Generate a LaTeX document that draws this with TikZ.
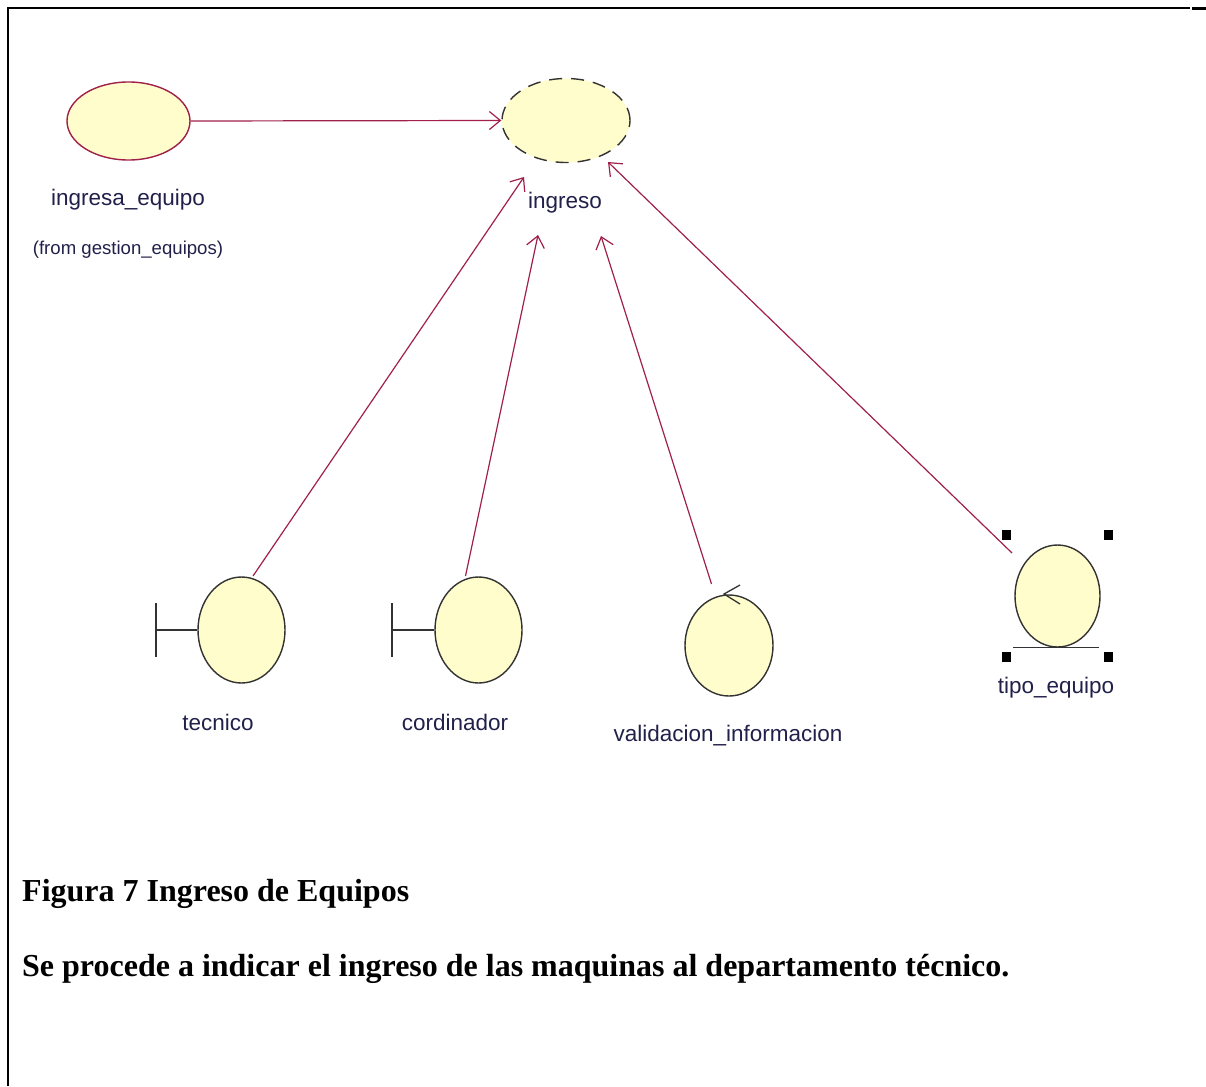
\documentclass[tikz,border=0pt]{standalone}
\usepackage{fontspec}
\setmainfont{Liberation Serif}
\newfontfamily\rosefont{Liberation Sans}
\usetikzlibrary{shapes.geometric,arrows.meta}
\definecolor{rosefill}{HTML}{FFFDCC}
\definecolor{roseline}{HTML}{A0204A}
\definecolor{roseedge}{HTML}{333333}
\definecolor{rosetext}{HTML}{20204A}
\tikzset{
  x=1pt, y=-1pt,
  usecase/.style={ellipse, draw=roseline, fill=rosefill, line width=1.4pt, inner sep=0pt},
  robust/.style={ellipse, draw=roseedge, fill=rosefill, line width=1.4pt, inner sep=0pt},
  iconline/.style={draw=roseedge, line width=1.8pt},
  dep/.style={draw=roseline, line width=1.2pt,
    -{Straight Barb[length=11pt,width=18pt,line width=1.2pt]}},
  lbl/.style={font=\rosefont\fontsize{22.5}{26}\selectfont, text=rosetext, inner sep=0pt},
  handle/.style={fill=black, minimum width=9pt, minimum height=10pt, inner sep=0pt},
  caption/.style={font=\bfseries\fontsize{32}{38}\selectfont, anchor=base west, inner sep=0pt}
}
\begin{document}
\begin{tikzpicture}
\useasboundingbox (0,0) rectangle (1206,1086);
% page frame
\draw[line width=2pt] (8,8) -- (1190,8);
\draw[line width=2pt] (8,7) -- (8,1086);
\draw[line width=3pt] (1192,9) -- (1206,9);

% use cases
\node[usecase, minimum width=123pt, minimum height=78pt] (ingresa) at (128.5,121) {};
\node[usecase, draw=roseedge, dash pattern=on 13pt off 9pt, minimum width=128pt, minimum height=84pt] (ingreso) at (566,120.5) {};
\node[lbl] (ingresaL) at (128,200) {ingresa\_equipo};
\node[lbl, font=\rosefont\fontsize{18.6}{22}\selectfont] (fromL) at (128,250) {(from gestion\_equipos)};
\node[lbl] (ingresoL) at (565,203) {ingreso};

% boundary: tecnico
\node[robust, minimum width=87pt, minimum height=106pt] (tecnico) at (241.5,630) {};
\draw[iconline] (156,603) -- (156,657);
\draw[iconline] (156,630) -- (tecnico.west);
\node[lbl] (tecnicoL) at (218,722) {tecnico};

% boundary: cordinador
\node[robust, minimum width=87pt, minimum height=106pt] (cordinador) at (478.5,630) {};
\draw[iconline] (392,603) -- (392,657);
\draw[iconline] (392,630) -- (cordinador.west);
\node[lbl] (cordinadorL) at (455,722) {cordinador};

% control: validacion_informacion
\node[robust, minimum width=88pt, minimum height=101pt] (validacion) at (729,645.5) {};
\draw[iconline, line width=1.3pt] (740,585) -- (724,594) -- (740,604);
\node[lbl] (validacionL) at (728,736) {validacion\_informacion};

% entity: tipo_equipo (selected)
\node[robust, minimum width=85pt, minimum height=102pt] (tipo) at (1057.5,596) {};
\draw[iconline, line width=1.4pt] (1013,647.5) -- (1099,647.5);
\node[handle] (h1) at (1006,535) {};
\node[handle] (h2) at (1108,535) {};
\node[handle] (h3) at (1006,657) {};
\node[handle] (h4) at (1108,657) {};
\node[lbl] (tipoL) at (1056,688) {tipo\_equipo};

% dependency end points
\coordinate (tecS) at (253,576);
\coordinate (tecE) at (524,177);
\coordinate (corS) at (465.5,576);
\coordinate (corE) at (538,235);
\coordinate (valS) at (711.5,584);
\coordinate (valE) at (601,236);
\coordinate (tipS) at (1012,553);
\coordinate (tipE) at (608,162);

% dependencies
\draw[dep] (ingresa.east) -- (ingreso.west);
\draw[dep] (tecS) -- (tecE);
\draw[dep] (corS) -- (corE);
\draw[dep] (valS) -- (valE);
\draw[dep] (tipS) -- (tipE);

% caption
\node[caption] (cap1) at (22,901) {Figura 7 Ingreso de Equipos};
\node[caption] (cap2) at (22,976) {Se procede a indicar el ingreso de las maquinas al departamento técnico.};
\end{tikzpicture}
\end{document}
